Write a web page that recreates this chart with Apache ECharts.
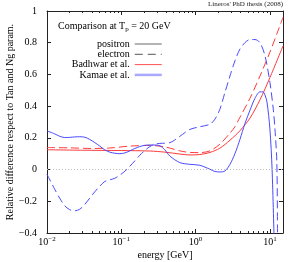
<!DOCTYPE html>
<html>
<head>
<meta charset="utf-8">
<script src="https://cdn.jsdelivr.net/npm/echarts@6/dist/echarts.min.js"></script>
<style>
html,body{margin:0;padding:0;background:#fff;}
#c{width:299px;height:262px;}
</style>
</head>
<body>
<div id="c"></div>
<script>
// ---- data ----
const badhwarPosE = [0.01, 0.03, 0.1, 0.242, 0.385, 0.614, 0.837, 1.14, 1.56, 2.12, 2.9, 3.95, 5.4, 7.35, 10.0, 15.0];
const badhwarPosV = [0.125, 0.122, 0.12, 0.117, 0.11, 0.098, 0.092, 0.095, 0.108, 0.135, 0.185, 0.245, 0.325, 0.44, 0.58, 0.78];

const badhwarEleE = [0.01, 0.02, 0.04, 0.07, 0.13, 0.242, 0.385, 0.614, 0.837, 1.14, 1.56, 2.12, 2.9, 3.38, 3.95, 5.4, 7.35, 10.0, 12.5, 15.0];
const badhwarEleV = [0.139, 0.137, 0.133, 0.136, 0.148, 0.152, 0.143, 0.118, 0.108, 0.107, 0.118, 0.16, 0.23, 0.27, 0.33, 0.45, 0.59, 0.74, 0.86, 0.96];

const kamaePosE = [0.01, 0.0127, 0.0148, 0.0173, 0.0202, 0.0236, 0.0276, 0.0322, 0.0376, 0.044, 0.0513, 0.06, 0.07, 0.0818, 0.0955, 0.1117, 0.13, 0.152, 0.177, 0.207, 0.242, 0.282, 0.33, 0.385, 0.451, 0.614, 0.837, 1.14, 1.56, 1.82, 2.12, 2.48, 2.9, 3.38, 3.95, 4.61, 5.4, 6.3, 7.35, 8.07, 8.59, 9.14, 10.0, 10.7, 11.4];
const kamaePosV = [0.244, 0.225, 0.21, 0.202, 0.203, 0.206, 0.207, 0.204, 0.19, 0.17, 0.148, 0.124, 0.11, 0.103, 0.1, 0.105, 0.118, 0.133, 0.145, 0.153, 0.155, 0.155, 0.15, 0.125, 0.085, 0.044, 0.033, 0.027, 0.002, -0.012, -0.015, -0.009, 0.033, 0.1, 0.19, 0.29, 0.375, 0.45, 0.49, 0.49, 0.47, 0.425, 0.255, 0.0, -0.45];

const kamaeEleE = [0.01, 0.0127, 0.0148, 0.0173, 0.0202, 0.0236, 0.0276, 0.0322, 0.0376, 0.044, 0.0513, 0.06, 0.07, 0.0818, 0.0955, 0.1117, 0.13, 0.152, 0.177, 0.207, 0.242, 0.282, 0.33, 0.451, 0.614, 0.837, 1.14, 1.56, 1.82, 2.12, 2.48, 2.9, 3.38, 3.95, 4.61, 5.4, 6.3, 7.35, 8.59, 10.0, 11.1, 11.7, 12.4, 12.65];
const kamaeEleV = [-0.03, -0.124, -0.18, -0.228, -0.253, -0.26, -0.25, -0.22, -0.18, -0.14, -0.105, -0.075, -0.065, -0.055, -0.035, -0.01, 0.02, 0.055, 0.09, 0.12, 0.145, 0.16, 0.165, 0.17, 0.21, 0.253, 0.27, 0.286, 0.318, 0.38, 0.486, 0.59, 0.685, 0.76, 0.80, 0.82, 0.82, 0.80, 0.717, 0.55, 0.38, 0.254, 0.044, -0.45];

const minorTicks = [0.02,0.03,0.04,0.05,0.06,0.07,0.08,0.09,0.2,0.3,0.4,0.5,0.6,0.7,0.8,0.9,2,3,4,5,6,7,8,9];
const xMin = 0.01, xMax = 15, yMin = -0.4, yMax = 1, yStep = 0.2;
const legendNames = ['positron', 'electron', 'Badhwar et al.', 'Kamae et al.'];

// ---- chart ----
const FONT = 'Liberation Serif';
const pairs = (E, V) => E.map((e, i) => [e, V[i]]);
const xLabel = v => {
  const l = Math.log10(v), e = Math.round(l);
  if (Math.abs(l - e) > 1e-6) return '';
  return '{b|10}{s|' + (e < 0 ? '\u2212' + (-e) : e) + '}';
};
const yLabel = v => {
  const r = Math.round(v * 10) / 10;
  if (r === 0) return '0';
  return (r < 0 ? '\u2212' : '') + Math.abs(r);
};
const axisColor = '#222';
const red = '#ff3a3a', blue = '#4a4aff';
const legendStyles = [
  {color: '#9a9a9a', width: 1.5, type: 'solid'},
  {color: '#555555', width: 1, type: [8, 5]},
  {color: '#ff5050', width: 1, type: 'solid'},
  {color: '#a8a8ff', width: 2.5, type: 'solid'}
];

const chart = echarts.init(document.getElementById('c'), null, {renderer: 'canvas'});
chart.setOption({
  animation: false,
  backgroundColor: '#fff',
  textStyle: {fontFamily: FONT},
  grid: {left: 47, right: 16, top: 11, bottom: 29, containLabel: false, outerBoundsMode: 'none'},
  title: [
    {
      text: '{a|Comparison at T}{sub|p}{a| = 20 GeV}',
      left: 58, top: 19, padding: 0,
      textStyle: {
        fontWeight: 'normal',
        rich: {
          a: {fontFamily: FONT, fontSize: 10, fontWeight: 'normal', lineHeight: 14, color: '#000'},
          sub: {fontFamily: FONT, fontSize: 7, fontWeight: 'normal', lineHeight: 8, verticalAlign: 'bottom', color: '#000'}
        }
      }
    },
    {
      text: "Lineros' PhD thesis (2008)",
      right: 16, top: 1, padding: 0,
      textStyle: {fontFamily: FONT, fontSize: 7, fontWeight: 'normal', color: '#222'}
    }
  ],
  legend: {
    data: legendNames.map((n, i) => ({
      name: n,
      itemStyle: {opacity: 0, borderWidth: 0},
      lineStyle: legendStyles[i]
    })),
    orient: 'vertical', align: 'right',
    right: 136, top: 39, padding: 0,
    itemWidth: 27, itemHeight: 8, itemGap: 0.3,
    selectedMode: false,
    itemStyle: {opacity: 0, borderWidth: 0},
    textStyle: {fontFamily: FONT, fontSize: 10, lineHeight: 9, color: '#000'}
  },
  xAxis: [
    {
      type: 'log', logBase: 10, min: xMin, max: xMax,
      name: 'energy [GeV]', nameLocation: 'middle', nameGap: 17,
      nameMoveOverlap: false,
      nameTextStyle: {fontFamily: FONT, fontSize: 10, color: '#000'},
      axisLine: {show: true, onZero: false, lineStyle: {color: axisColor, width: 1}},
      axisTick: {show: true, inside: true, length: 4, lineStyle: {color: axisColor}},
      splitLine: {show: false},
      axisLabel: {
        margin: 3, formatter: xLabel, showMinLabel: true, showMaxLabel: true,
        rich: {
          b: {fontFamily: FONT, fontSize: 10, lineHeight: 13, color: '#000'},
          s: {fontFamily: FONT, fontSize: 7, lineHeight: 8, verticalAlign: 'top', color: '#000'}
        }
      }
    },
    {
      type: 'log', logBase: 10, min: xMin, max: xMax, position: 'top',
      axisLine: {show: true, onZero: false, lineStyle: {color: axisColor, width: 1}},
      axisTick: {show: true, inside: true, length: 4, lineStyle: {color: axisColor}},
      axisLabel: {show: false}, splitLine: {show: false}
    }
  ],
  yAxis: [
    {
      type: 'value', min: yMin, max: yMax, interval: yStep,
      name: 'Relative difference respect to Tan and Ng param.',
      nameLocation: 'middle', nameGap: 32, nameMoveOverlap: false,
      nameTextStyle: {fontFamily: FONT, fontSize: 10, color: '#000'},
      axisLine: {show: true, onZero: false, lineStyle: {color: axisColor, width: 1}},
      axisTick: {show: true, inside: true, length: 4, lineStyle: {color: axisColor}},
      splitLine: {show: false},
      axisLabel: {margin: 10, formatter: yLabel, fontFamily: FONT, fontSize: 10, color: '#000'}
    },
    {
      type: 'value', min: yMin, max: yMax, interval: yStep, position: 'right',
      axisLine: {show: true, onZero: false, lineStyle: {color: axisColor, width: 1}},
      axisTick: {show: true, inside: true, length: 4, lineStyle: {color: axisColor}},
      axisLabel: {show: false}, splitLine: {show: false}
    }
  ],
  series: [
    {
      type: 'custom', name: 'minorTicks', silent: true, clip: false, z: 5,
      xAxisIndex: 0, yAxisIndex: 0,
      data: minorTicks.map(v => [v, yMin]),
      encode: {x: 0, y: 1},
      renderItem: (params, api) => {
        const b = api.coord([api.value(0), yMin]);
        const t = api.coord([api.value(0), yMax]);
        const st = {stroke: axisColor, lineWidth: 1};
        const xb = Math.round(b[0]) + 0.5;
        return {type: 'group', children: [
          {type: 'line', shape: {x1: xb, y1: b[1], x2: xb, y2: b[1] - 2}, style: st},
          {type: 'line', shape: {x1: xb, y1: t[1], x2: xb, y2: t[1] + 2}, style: st}
        ]};
      }
    },
    {
      type: 'line', name: 'Badhwar positron', data: pairs(badhwarPosE, badhwarPosV),
      smooth: 0.3, symbol: 'none', color: red,
      lineStyle: {color: red, width: 1},
      markLine: {
        silent: true, symbol: ['none', 'none'], label: {show: false},
        lineStyle: {color: '#bdbdbd', type: [1, 2], width: 1},
        data: [{yAxis: 0}]
      }
    },
    {
      type: 'line', name: 'Badhwar electron', data: pairs(badhwarEleE, badhwarEleV),
      smooth: 0.3, symbol: 'none', color: red,
      lineStyle: {color: red, width: 1, type: [8, 4]}
    },
    {
      type: 'line', name: 'Kamae positron', data: pairs(kamaePosE, kamaePosV),
      smooth: 0.3, symbol: 'none', color: blue,
      lineStyle: {color: blue, width: 1}
    },
    {
      type: 'line', name: 'Kamae electron', data: pairs(kamaeEleE, kamaeEleV),
      smooth: 0.3, symbol: 'none', color: blue,
      lineStyle: {color: blue, width: 1, type: [8, 4]}
    },
    {type: 'line', name: legendNames[0], data: [], symbol: 'none', color: legendStyles[0].color, lineStyle: legendStyles[0]},
    {type: 'line', name: legendNames[1], data: [], symbol: 'none', color: legendStyles[1].color, lineStyle: legendStyles[1]},
    {type: 'line', name: legendNames[2], data: [], symbol: 'none', color: legendStyles[2].color, lineStyle: legendStyles[2]},
    {type: 'line', name: legendNames[3], data: [], symbol: 'none', color: legendStyles[3].color, lineStyle: legendStyles[3]}
  ]
});
</script>
</body>
</html>
